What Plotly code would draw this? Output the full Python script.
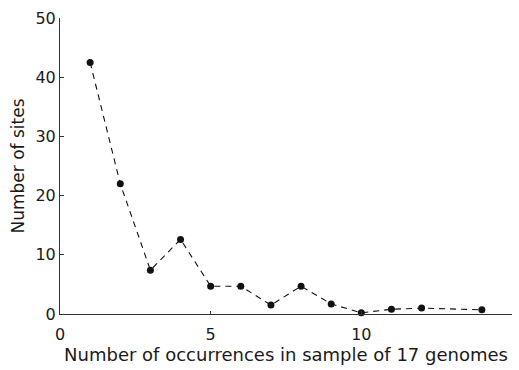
import plotly.graph_objects as go

occurrences = [1, 2, 3, 4, 5, 6, 7, 8, 9, 10, 11, 12, 14]
sites = [42.5, 22.0, 7.4, 12.6, 4.7, 4.7, 1.5, 4.7, 1.7, 0.2, 0.8, 1.0, 0.7]
x_ticks = [0, 5, 10, 15]
y_ticks = [0, 10, 20, 30, 40, 50]

fig = go.Figure()
fig.add_trace(go.Scatter(
    x=occurrences, y=sites, mode="lines+markers",
    line=dict(color="#111111", width=1.1, dash="6px,5px"),
    marker=dict(color="#111111", size=7),
    cliponaxis=False, showlegend=False,
))

font = dict(family="DejaVu Sans, sans-serif", color="#1a1a1a")
fig.update_layout(
    width=519, height=370,
    margin=dict(l=60, r=7, t=18, b=56),
    paper_bgcolor="white", plot_bgcolor="white",
    font=font,
)
fig.update_xaxes(
    range=[0, 15], tickvals=x_ticks, ticktext=[str(v) for v in x_ticks],
    showgrid=False, zeroline=False, showline=True, linecolor="#333333", linewidth=1,
    ticks="inside", ticklen=3, tickcolor="#333333", tickfont=dict(size=16),
    ticklabelstandoff=6,
    title=dict(text="Number of occurrences in sample of 17 genomes", font=dict(size=18), standoff=3),
)
fig.update_yaxes(
    range=[0, 50], tickvals=y_ticks, ticktext=[str(v) for v in y_ticks],
    showgrid=False, zeroline=False, showline=True, linecolor="#333333", linewidth=1,
    ticks="inside", ticklen=4, tickcolor="#333333", tickfont=dict(size=16),
    title=dict(text="Number of sites", font=dict(size=17), standoff=6),
)

fig.write_html("out.html")
